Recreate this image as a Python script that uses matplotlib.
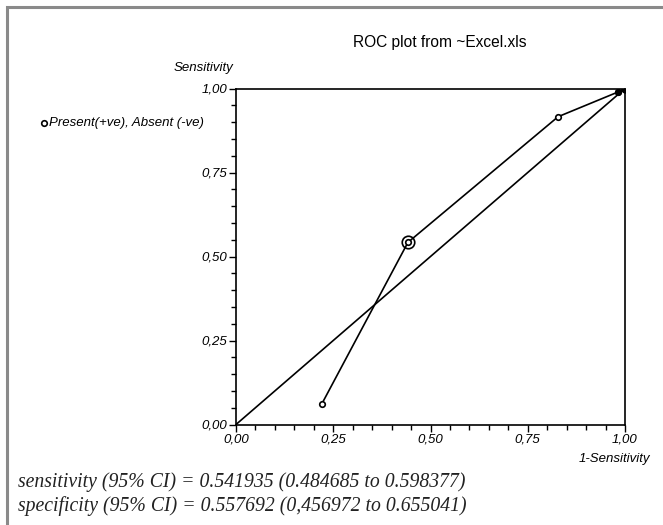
"""
ROC plot recreated with matplotlib.
"""

import matplotlib
matplotlib.use("Agg")
import matplotlib.pyplot as plt
from matplotlib.patches import Rectangle
from matplotlib.ticker import MultipleLocator, FuncFormatter

# data
one_minus_spec = [0.22, 0.442, 0.828, 0.983, 1.0]
sensitivity = [0.06, 0.542, 0.916, 0.99, 1.0]
diag_x = [0.0, 1.0]
diag_y = [0.0, 1.0]
cut_point = (0.442, 0.542)

title = "ROC plot from ~Excel.xls"
legend_text = "Present(+ve), Absent (-ve)"
stats_lines = [
    "sensitivity (95% CI) = 0.541935 (0.484685 to 0.598377)",
    "specificity (95% CI) = 0.557692 (0,456972 to 0.655041)",
]

W, H = 663, 525
fig = plt.figure(figsize=(W / 100, H / 100), dpi=100)
fig.patch.set_facecolor("white")

# grey frame, only top and left edges fall inside the picture
fig.add_artist(Rectangle((7 / W, -0.05), 1.1, 1 - 7 / H + 0.05,
                         transform=fig.transFigure, fill=False,
                         edgecolor="#8a8a8a", linewidth=2.2))

ax = fig.add_axes([236 / W, 1 - 424.5 / H, 389 / W, 336 / H])
ax.set_xlim(0, 1)
ax.set_ylim(0, 1)

ax.plot(diag_x, diag_y, color="black", linewidth=1.2, zorder=2)
ax.plot(one_minus_spec, sensitivity, color="black", linewidth=1.2, zorder=3,
        marker="o", markersize=4, markerfacecolor="white",
        markeredgecolor="black", markeredgewidth=1.2)
ax.plot([1.0], [1.0], marker="o", markersize=5, color="black", zorder=4)
ax.plot([0.983], [0.99], marker="o", markersize=4, color="black", zorder=4)
ax.plot([cut_point[0]], [cut_point[1]], marker="o", markersize=9,
        markerfacecolor="none", markeredgecolor="black",
        markeredgewidth=1.2, zorder=5)

fmt = FuncFormatter(lambda v, p: f"{v:.2f}".replace(".", ","))
for axis in (ax.xaxis, ax.yaxis):
    axis.set_major_locator(MultipleLocator(0.25))
    axis.set_minor_locator(MultipleLocator(0.05))
    axis.set_major_formatter(fmt)

ax.tick_params(which="major", direction="out", length=5, width=1.0,
               labelsize=9.5, pad=1.5)
ax.tick_params(which="minor", direction="out", length=3.5, width=1.0)
for lab in ax.get_xticklabels() + ax.get_yticklabels():
    lab.set_fontstyle("italic")
    lab.set_family("Liberation Sans")

for spine in ax.spines.values():
    spine.set_linewidth(1.2)

# texts
fig.text(440 / W, 1 - 42 / H, title, ha="center", va="center",
         fontsize=11.2, family="Liberation Sans")
fig.text(203 / W, 1 - 68 / H, "Sensitivity", ha="center", va="center",
         fontsize=9.5, style="italic", family="Liberation Sans")
fig.text(650 / W, 1 - 459 / H, "1-Sensitivity", ha="right", va="center",
         fontsize=9.5, style="italic", family="Liberation Sans")

fig.add_artist(plt.Line2D([44 / W], [1 - 123 / H], marker="o", markersize=4,
                          markerfacecolor="white", markeredgecolor="black",
                          markeredgewidth=1.2, transform=fig.transFigure))
fig.text(49 / W, 1 - 123 / H, legend_text, ha="left", va="center",
         fontsize=9.5, style="italic", family="Liberation Sans")

for i, line in enumerate(stats_lines):
    fig.text(18 / W, 1 - (482 + 24 * i) / H, line, ha="left", va="center",
             fontsize=14.2, style="italic", family="Liberation Serif",
             color="#222222")

fig.savefig("out.png", dpi=100, facecolor=fig.get_facecolor())
plt.close(fig)
